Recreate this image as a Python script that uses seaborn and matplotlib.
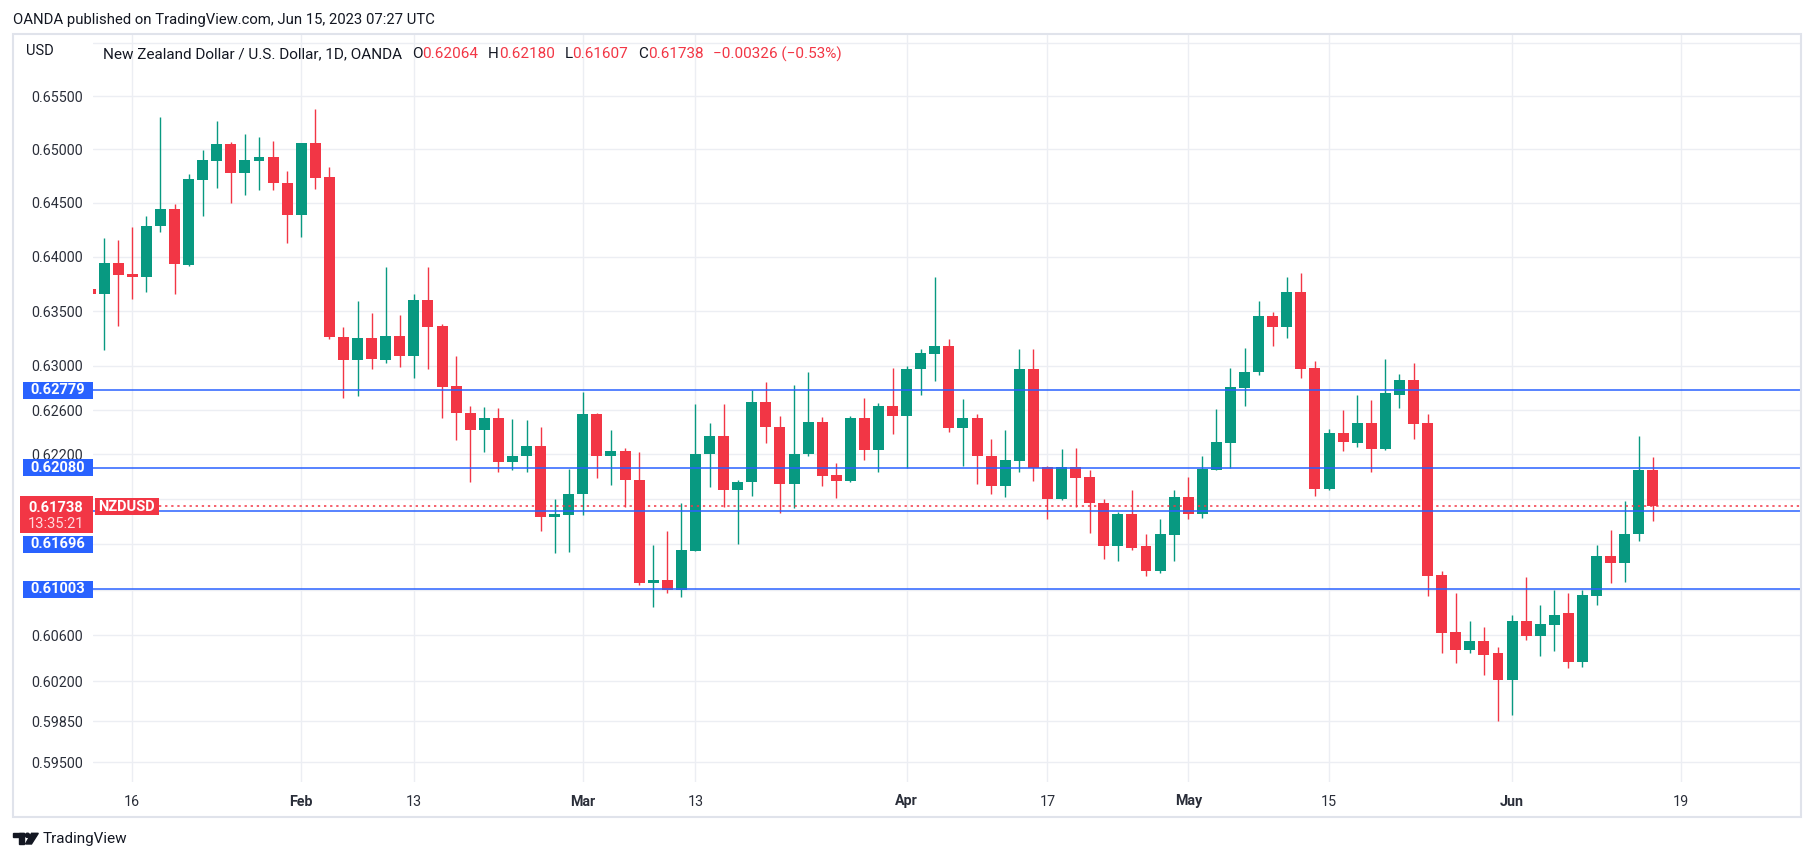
"""
NZD/USD daily candles (OANDA) as published on TradingView, 15 Jun 2023.
Redraws the screenshot with matplotlib/seaborn: log price scale on the left,
horizontal level lines with their price tags, and the TradingView header.
"""

import numpy as np
import pandas as pd
import matplotlib
matplotlib.use("Agg")
import matplotlib.pyplot as plt
from matplotlib.patches import Rectangle, Polygon, Ellipse
from matplotlib.ticker import FixedLocator, NullLocator
from matplotlib.offsetbox import TextArea, HPacker, AnnotationBbox
import seaborn as sns

# ---- data --------------------------------------------------------------
dates = pd.bdate_range("2023-01-11", "2023-06-15")

opens = [0.6370, 0.6366, 0.6394, 0.6384, 0.6381, 0.6428, 0.6444, 0.6392, 0.6471, 0.6489,
         0.6505, 0.6478, 0.6489, 0.6493, 0.6468, 0.6439, 0.6506, 0.6474, 0.6326, 0.6305,
         0.6325, 0.6305, 0.6327, 0.6309, 0.6360, 0.6336, 0.6282, 0.6257, 0.6242, 0.6253,
         0.6213, 0.6219, 0.6228, 0.6164, 0.6166, 0.6185, 0.6256, 0.6219, 0.6223, 0.6197,
         0.6106, 0.6108, 0.6100, 0.6134, 0.6220, 0.6237, 0.6188, 0.6195, 0.6267, 0.6245,
         0.6194, 0.6220, 0.6249, 0.6202, 0.6196, 0.6253, 0.6224, 0.6264, 0.6255, 0.6297,
         0.6311, 0.6318, 0.6244, 0.6253, 0.6219, 0.6192, 0.6214, 0.6297, 0.6209, 0.6180,
         0.6209, 0.6200, 0.6177, 0.6138, 0.6167, 0.6138, 0.6116, 0.6148, 0.6182, 0.6167,
         0.6206, 0.6230, 0.6280, 0.6294, 0.6345, 0.6335, 0.6367, 0.6298, 0.6189, 0.6239,
         0.6230, 0.6248, 0.6225, 0.6274, 0.6287, 0.6248, 0.6113, 0.6063, 0.6047, 0.6055,
         0.6044, 0.6021, 0.6072, 0.6059, 0.6069, 0.6079, 0.6037, 0.6094, 0.6130, 0.6123,
         0.6149, 0.62064]
highs = [0.6372, 0.6417, 0.6415, 0.6427, 0.6438, 0.6530, 0.6449, 0.6477, 0.6499, 0.6526,
         0.6507, 0.6514, 0.6511, 0.6508, 0.6480, 0.6506, 0.6538, 0.6483, 0.6335, 0.6359,
         0.6348, 0.6390, 0.6346, 0.6366, 0.6390, 0.6338, 0.6309, 0.6264, 0.6263, 0.6262,
         0.6252, 0.6251, 0.6245, 0.6180, 0.6207, 0.6276, 0.6257, 0.6242, 0.6226, 0.6222,
         0.6139, 0.6152, 0.6177, 0.6265, 0.6248, 0.6265, 0.6197, 0.6278, 0.6285, 0.6255,
         0.6283, 0.6294, 0.6254, 0.6212, 0.6255, 0.6271, 0.6266, 0.6298, 0.6300, 0.6315,
         0.6381, 0.6324, 0.6270, 0.6256, 0.6234, 0.6242, 0.6315, 0.6315, 0.6210, 0.6225,
         0.6226, 0.6206, 0.6180, 0.6169, 0.6188, 0.6149, 0.6162, 0.6188, 0.6200, 0.6219,
         0.6261, 0.6298, 0.6316, 0.6359, 0.6349, 0.6381, 0.6385, 0.6304, 0.6243, 0.6260,
         0.6274, 0.6269, 0.6306, 0.6293, 0.6303, 0.6256, 0.6116, 0.6097, 0.6072, 0.6067,
         0.6050, 0.6078, 0.6111, 0.6086, 0.6100, 0.6097, 0.6100, 0.6139, 0.6153, 0.6178,
         0.6237, 0.62180]
lows = [0.6364, 0.6314, 0.6336, 0.6361, 0.6367, 0.6423, 0.6366, 0.6391, 0.6438, 0.6464,
        0.6450, 0.6457, 0.6462, 0.6462, 0.6413, 0.6418, 0.6463, 0.6324, 0.6271, 0.6273,
        0.6297, 0.6303, 0.6299, 0.6289, 0.6297, 0.6253, 0.6233, 0.6195, 0.6222, 0.6204,
        0.6206, 0.6204, 0.6152, 0.6132, 0.6133, 0.6166, 0.6199, 0.6193, 0.6173, 0.6104,
        0.6085, 0.6097, 0.6093, 0.6134, 0.6191, 0.6173, 0.6140, 0.6183, 0.6230, 0.6168,
        0.6172, 0.6219, 0.6192, 0.6181, 0.6195, 0.6215, 0.6204, 0.6238, 0.6208, 0.6274,
        0.6286, 0.6240, 0.6210, 0.6194, 0.6185, 0.6182, 0.6204, 0.6196, 0.6162, 0.6179,
        0.6173, 0.6150, 0.6127, 0.6125, 0.6135, 0.6112, 0.6115, 0.6125, 0.6162, 0.6163,
        0.6206, 0.6208, 0.6264, 0.6292, 0.6318, 0.6325, 0.6289, 0.6183, 0.6188, 0.6223,
        0.6227, 0.6204, 0.6224, 0.6262, 0.6234, 0.6094, 0.6044, 0.6036, 0.6044, 0.6025,
        0.5985, 0.5991, 0.6056, 0.6042, 0.6046, 0.6031, 0.6032, 0.6086, 0.6106, 0.6107,
        0.6143, 0.61607]
closes = [0.6366, 0.6394, 0.6383, 0.6381, 0.6428, 0.6444, 0.6393, 0.6472, 0.6490, 0.6505,
          0.6478, 0.6490, 0.6493, 0.6468, 0.6439, 0.6506, 0.6473, 0.6326, 0.6305, 0.6325,
          0.6306, 0.6327, 0.6309, 0.6360, 0.6335, 0.6281, 0.6257, 0.6242, 0.6253, 0.6213,
          0.6219, 0.6228, 0.6164, 0.6167, 0.6185, 0.6256, 0.6219, 0.6223, 0.6197, 0.6106,
          0.6108, 0.6100, 0.6135, 0.6220, 0.6237, 0.6188, 0.6195, 0.6267, 0.6245, 0.6194,
          0.6220, 0.6249, 0.6201, 0.6196, 0.6253, 0.6224, 0.6264, 0.6255, 0.6297, 0.6312,
          0.6318, 0.6244, 0.6253, 0.6219, 0.6192, 0.6215, 0.6297, 0.6208, 0.6180, 0.6209,
          0.6199, 0.6177, 0.6138, 0.6167, 0.6137, 0.6116, 0.6149, 0.6182, 0.6167, 0.6207,
          0.6231, 0.6281, 0.6294, 0.6345, 0.6335, 0.6367, 0.6297, 0.6189, 0.6239, 0.6231,
          0.6248, 0.6225, 0.6275, 0.6287, 0.6247, 0.6112, 0.6062, 0.6047, 0.6055, 0.6043,
          0.6021, 0.6072, 0.6059, 0.6070, 0.6078, 0.6037, 0.6095, 0.6130, 0.6123, 0.6149,
          0.6206, 0.61738]

tick_dates = ["2023-01-16", "2023-02-01", "2023-02-13", "2023-03-01", "2023-03-13", "2023-04-03",
              "2023-04-17", "2023-05-01", "2023-05-15", "2023-06-01", "2023-06-19"]
tick_labels = ["16", "Feb", "13", "Mar", "13", "Apr", "17", "May", "15", "Jun", "19"]
month_names = {"Feb", "Mar", "Apr", "May", "Jun"}

price_ticks = [0.595, 0.5985, 0.602, 0.606, 0.610, 0.614, 0.618, 0.622, 0.626, 0.630,
               0.635, 0.640, 0.645, 0.650, 0.655, 0.660]
hidden_ticks = [0.610, 0.614, 0.618, 0.660]  # covered by the price tags / header

level_lines = [0.62779, 0.62080, 0.61696, 0.61003]
last_price = 0.61738
countdown = "13:35:21"
change_text = "\u22120.00326 (\u22120.53%)"

# ---- style -----------------------------------------------------------------
GREEN = "#089981"
RED = "#f23645"
BLUE = "#2962ff"
TEXT = "#131722"
GRID = "#eceef3"

sns.set_style("white")
plt.rcParams["font.family"] = ["Roboto", "DejaVu Sans"]

W, H = 1814, 861


def fx(px):
    return px / W


def fy(py):
    # py measured from the top of the image
    return 1 - py / H


fig = plt.figure(figsize=(W / 100, H / 100), dpi=100)
ax = fig.add_axes([fx(93), fy(782), fx(1800 - 93), (782 - 35) / H])

# ---- candles ---------------------------------------------------------------
o = np.array(opens)
h = np.array(highs)
l = np.array(lows)
c = np.array(closes)
x = np.arange(len(dates))
colors = np.where(c >= o, GREEN, RED)

ax.vlines(x, l, h, colors=colors, lw=1.0, zorder=3)
ax.bar(x, np.maximum(np.abs(c - o), 0.00002), bottom=np.minimum(o, c),
       width=0.78, color=colors, linewidth=0, zorder=4)

ax.set_yscale("log")
ax.set_ylim(0.5933, 0.66079)
ax.set_xlim(0.21, 121.45)

# x ticks: positions on the weekday axis (extends past the last bar)
axis_days = pd.bdate_range(dates[0], "2023-07-07")
xpos = [axis_days.get_loc(pd.Timestamp(d)) for d in tick_dates]
ax.set_xticks(xpos)
ax.set_xticklabels(tick_labels)
for t in ax.get_xticklabels():
    if t.get_text() in month_names:
        t.set_fontweight("bold")

ax.yaxis.set_major_locator(FixedLocator(price_ticks))
ax.yaxis.set_minor_locator(NullLocator())
ax.set_yticklabels(["" if p in hidden_ticks else f"{p:.5f}" for p in price_ticks])

ax.tick_params(axis="both", length=0, labelsize=10.3, labelcolor="#2a2e39")
ax.tick_params(axis="y", pad=7)
ax.tick_params(axis="x", pad=9)
ax.grid(True, color=GRID, lw=1)
ax.set_axisbelow(True)
sns.despine(ax=ax, left=True, bottom=True, right=True, top=True)

# ---- drawn levels ------------------------------------------------------------
for p in level_lines:
    ax.axhline(p, color=BLUE, lw=1.1, zorder=5)
ax.axhline(last_price, xmin=(158.5 - 93) / (1800 - 93), color=RED, lw=1.1,
           ls=(0, (1.5, 2.5)), zorder=5)


def price_y(p):
    # display y (pixels from the bottom) of a price on the axis
    return ax.transData.transform((0, p))[1]


def tag(x0, x1, yc, height, fc, zorder=6):
    fig.add_artist(Rectangle((fx(x0), (yc - height / 2) / H), fx(x1 - x0), height / H,
                             transform=fig.transFigure, facecolor=fc, edgecolor="none",
                             zorder=zorder))


tag_offsets = {0.61696: -33.2}
for p in level_lines:
    yc = price_y(p) + tag_offsets.get(p, 0)
    tag(23, 93, yc, 17, BLUE)
    fig.text(fx(58), yc / H, f"{p:.5f}", ha="center", va="center", color="white",
             fontsize=10.5, fontweight="bold", zorder=7)

yl = price_y(last_price)
tag(19.7, 92.5, yl - 8.2, 37, RED)
fig.text(fx(56), (yl - 1.5) / H, f"{last_price:.5f}", ha="center", va="center",
         color="white", fontsize=10.5, fontweight="bold", zorder=7)
fig.text(fx(56), (yl - 17.5) / H, countdown, ha="center", va="center",
         color="#ffd9dd", fontsize=10.5, zorder=7)
tag(95, 158.5, yl - 0.7, 17, RED)
fig.text(fx(126.7), (yl - 0.7) / H, "NZDUSD", ha="center", va="center",
         color="white", fontsize=10.5, fontweight="bold", zorder=7)

# ---- header / frame ------------------------------------------------------------
fig.text(fx(13), fy(20), "OANDA published on TradingView.com, Jun 15, 2023 07:27 UTC",
         ha="left", va="center", color=TEXT, fontsize=10.7)
fig.add_artist(Rectangle((fx(12.5), fy(816.7)), fx(1801 - 12.5), (816.7 - 33.7) / H,
                         transform=fig.transFigure, fill=False, edgecolor="#e0e3eb",
                         lw=1.5, zorder=8))
fig.text(fx(26), fy(51), "USD", ha="left", va="center", color=TEXT, fontsize=10.5)

ohlc_parts = [("O", opens[-1]), ("H", highs[-1]), ("L", lows[-1]), ("C", closes[-1])]
props_dark = dict(color=TEXT, fontsize=11)
props_red = dict(color=RED, fontsize=11)
groups = [TextArea("New Zealand Dollar / U.S. Dollar, 1D, OANDA", textprops=props_dark)]
for letter, val in ohlc_parts:
    groups.append(HPacker(children=[TextArea(letter, textprops=props_dark),
                                    TextArea(f"{val:.5f}", textprops=props_red)],
                          sep=0, pad=0))
groups.append(TextArea(change_text, textprops=props_red))
header = HPacker(children=groups, sep=7, pad=0, align="baseline")
ab = AnnotationBbox(header, (fx(103), fy(54)), xycoords="figure fraction",
                    box_alignment=(0, 0.5), frameon=False, pad=0, zorder=7)
fig.add_artist(ab)

# TradingView logo (rough) + wordmark
fig.add_artist(Polygon([(fx(13.3), fy(833.3)), (fx(24), fy(833.3)), (fx(24), fy(837)),
                        (fx(13.3), fy(837))], closed=True, color=TEXT,
                       transform=fig.transFigure))
fig.add_artist(Polygon([(fx(18.7), fy(833.3)), (fx(24), fy(833.3)), (fx(24), fy(844)),
                        (fx(18.7), fy(844))], closed=True, color=TEXT,
                       transform=fig.transFigure))
fig.add_artist(Ellipse((fx(27.5), fy(835.3)), fx(4.2), 4.2 / H, color=TEXT,
                       transform=fig.transFigure))
fig.add_artist(Polygon([(fx(31.5), fy(833.3)), (fx(38.3), fy(833.3)), (fx(31.5), fy(844)),
                        (fx(25.5), fy(844))], closed=True, color=TEXT,
                       transform=fig.transFigure))
fig.text(fx(43), fy(839), "TradingView", ha="left", va="center", color=TEXT, fontsize=11)

fig.savefig("out.png", dpi=100, facecolor="white")
